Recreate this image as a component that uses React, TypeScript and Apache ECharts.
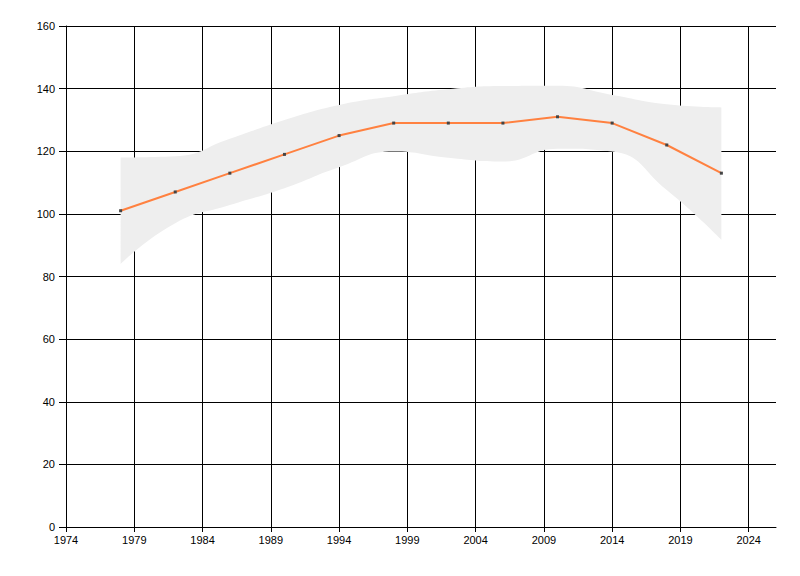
import React, { useEffect, useRef } from "react";
import * as echarts from "echarts";

const years = [1978, 1982, 1986, 1990, 1994, 1998, 2002, 2006, 2010, 2014, 2018, 2022];
const values = [101, 107, 113, 119, 125, 129, 129, 129, 131, 129, 122, 113];
const lower = [84, 97, 102.8, 108.2, 114.9, 119.9, 117.9, 116.7, 120.8, 119.9, 107.6, 91.7];
const upper = [118, 118.4, 124, 130, 134.8, 137.6, 139.8, 140.8, 140.9, 138, 135, 134];
const xTicks = [1974, 1979, 1984, 1989, 1994, 1999, 2004, 2009, 2014, 2019, 2024];

export default function App() {
  const ref = useRef<HTMLDivElement>(null);
  useEffect(() => {
    if (!ref.current) return;
    const chart = echarts.init(ref.current, null, { renderer: "svg" });
    const font = { fontFamily: "Liberation Sans, Arial, sans-serif", fontSize: 11, color: "#000" };
    chart.setOption({
      animation: false,
      backgroundColor: "#fff",
      grid: { left: 66, right: 24, top: 26, bottom: 49, containLabel: false },
      xAxis: {
        type: "value",
        min: 1974,
        max: 2026,
        axisLine: { show: true, onZero: false, lineStyle: { color: "#000", width: 1 } },
        axisTick: { show: true, length: 5, customValues: xTicks, lineStyle: { color: "#000" } },
        axisLabel: { ...font, margin: 7, customValues: xTicks, formatter: (v: number) => String(v) },
        splitLine: { show: true, lineStyle: { color: "#000", width: 1 } },
      },
      yAxis: {
        type: "value",
        min: 0,
        max: 160,
        interval: 20,
        axisLine: { show: true, lineStyle: { color: "#000", width: 1 } },
        axisTick: { show: true, length: 7, lineStyle: { color: "#000" } },
        axisLabel: { ...font, margin: 11 },
        splitLine: { show: true, lineStyle: { color: "#000", width: 1 } },
      },
      series: [
        {
          type: "line",
          data: years.map((y, i) => [lower[i], y]),
          encode: { x: 1, y: 0 },
          stack: "band",
          smooth: true,
          symbol: "none",
          lineStyle: { opacity: 0 },
          silent: true,
          z: 2,
        },
        {
          type: "line",
          data: years.map((y, i) => [upper[i] - lower[i], y]),
          encode: { x: 1, y: 0 },
          stack: "band",
          smooth: true,
          symbol: "none",
          lineStyle: { opacity: 0 },
          areaStyle: { color: "#eeeeee", opacity: 1 },
          silent: true,
          z: 2,
        },
        {
          type: "line",
          data: years.map((y, i) => [y, values[i]]),
          symbol: "rect",
          symbolSize: 3,
          showSymbol: true,
          lineStyle: { color: "#ff8140", width: 2 },
          itemStyle: { color: "#444444", borderWidth: 0 },
          z: 5,
        },
      ],
    });
    return () => chart.dispose();
  }, []);
  return (
    <div
      ref={ref}
      style={{ position: "fixed", left: 0, top: 0, width: 800, height: 576 }}
    />
  );
}
